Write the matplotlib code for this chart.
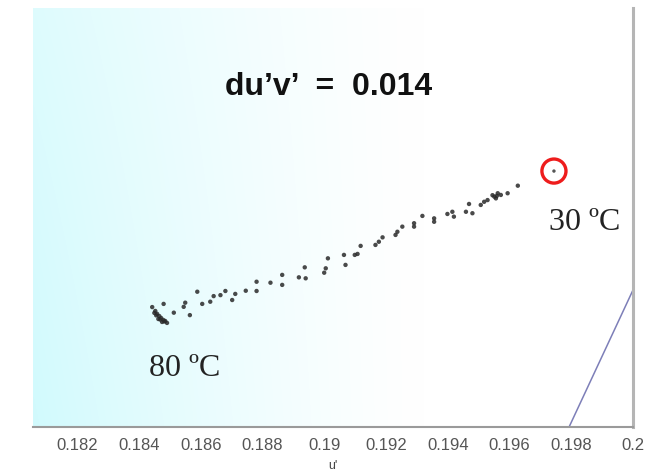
import numpy as np
import matplotlib
matplotlib.use("Agg")
import matplotlib.pyplot as plt

# measured chromaticity points u', v'
u_vals = [0.18443, 0.18450, 0.18453, 0.18459, 0.18463, 0.18466, 0.18472, 0.18475,
          0.18479, 0.18485, 0.18491, 0.18456, 0.18469, 0.18482,
          0.18480, 0.18513, 0.18545, 0.18550, 0.18565, 0.18589, 0.18605, 0.18631,
          0.18642, 0.18664, 0.18680, 0.18702, 0.18712, 0.18746, 0.18781, 0.18781,
          0.18826, 0.18864, 0.18864, 0.18918, 0.18940, 0.18937, 0.19000, 0.19005,
          0.19012, 0.19064, 0.19069, 0.19108, 0.19099, 0.19118, 0.19166, 0.19177,
          0.19189, 0.19231, 0.19237, 0.19253, 0.19291, 0.19291, 0.19318, 0.19356,
          0.19356, 0.19399, 0.19415, 0.19420, 0.19459, 0.19469, 0.19480, 0.19507,
          0.19518, 0.19529, 0.19551, 0.19562, 0.19556, 0.19572, 0.19594, 0.19627,
          0.19545, 0.19559]
v_vals = [0.45969, 0.45945, 0.45953, 0.45941, 0.45920, 0.45932, 0.45924, 0.45908,
          0.45916, 0.45912, 0.45904, 0.45935, 0.45918, 0.45910,
          0.45982, 0.45946, 0.45970, 0.45987, 0.45936, 0.46032, 0.45982, 0.45991,
          0.46014, 0.46018, 0.46035, 0.45998, 0.46023, 0.46036, 0.46073, 0.46035,
          0.46069, 0.46101, 0.46060, 0.46091, 0.46087, 0.46132, 0.46110, 0.46128,
          0.46169, 0.46183, 0.46142, 0.46187, 0.46183, 0.46220, 0.46224, 0.46237,
          0.46255, 0.46265, 0.46278, 0.46299, 0.46313, 0.46299, 0.46343, 0.46333,
          0.46319, 0.46351, 0.46360, 0.46340, 0.46360, 0.46392, 0.46354, 0.46388,
          0.46401, 0.46408, 0.46422, 0.46436, 0.46415, 0.46429, 0.46436, 0.46467,
          0.46428, 0.46425]

# 30 degC point (circled)
u_30, v_30 = 0.19744, 0.46527
# boundary line
line_u = [0.19793, 0.20000]
line_v = [0.45477, 0.46039]

xticks = [0.182, 0.184, 0.186, 0.188, 0.19, 0.192, 0.194, 0.196, 0.198, 0.2]
xtick_labels = ["0.182", "0.184", "0.186", "0.188", "0.19", "0.192", "0.194",
                "0.196", "0.198", "0.2"]
xlim = (0.18057, 0.20000)
ylim = (0.45477, 0.47196)

fig = plt.figure(figsize=(6.59, 4.75), dpi=100)
ax = fig.add_axes([33/659, 1 - 427/475, 600/659, 419/475])

# background gradient
nx, ny = 300, 200
xx = np.linspace(0, 1, nx)[None, :]
yy = np.linspace(0, 1, ny)[:, None]  # 0 top, 1 bottom
s = np.clip(1 - xx / 0.65, 0, 1) ** 1.3 * (0.72 + 0.28 * yy)
img = np.ones((ny, nx, 3))
img[..., 0] = 1 - 0.18 * s
img[..., 1] = 1 - 0.02 * s
img[..., 2] = 1 - 0.008 * s
ax.imshow(img, extent=[xlim[0], xlim[1], ylim[0], ylim[1]], origin="upper",
          aspect="auto", zorder=0, interpolation="bilinear")

ax.scatter(u_vals, v_vals, s=10, color="#2a2a2a", edgecolors="none", alpha=0.85, zorder=3)
ax.scatter([u_30], [v_30], s=6, color="#555555", edgecolors="none", zorder=3)
ax.scatter([u_30], [v_30], s=300, facecolors="none", edgecolors="#ee1c1c",
           linewidths=2.4, zorder=4)
ax.plot(line_u, line_v, color="#7d7fb8", lw=1.1, zorder=2)

ax.set_xlim(*xlim)
ax.set_ylim(*ylim)
ax.set_xticks(xticks)
ax.set_xticklabels(xtick_labels)
ax.set_yticks([])
ax.tick_params(axis="x", length=0, pad=8, labelsize=12, labelcolor="#555555")
for lab in ax.get_xticklabels():
    lab.set_fontfamily("Liberation Sans")
ax.set_xlabel("u'", fontsize=9, color="#444444", labelpad=5, family="Liberation Sans")

for side in ["top", "left"]:
    ax.spines[side].set_visible(False)
ax.spines["bottom"].set_color("#9a9a9a")
ax.spines["bottom"].set_linewidth(1.5)
ax.spines["right"].set_color("#b5b5b5")
ax.spines["right"].set_linewidth(2.2)

ax.text(0.493, 0.811, "du\u2019v\u2019  =  0.014", transform=ax.transAxes, ha="center",
        va="center", fontsize=23, fontweight="bold", family="Liberation Sans",
        color="#111111")
ax.text(0.19845, 0.46318, "30 \u00baC", ha="center", va="center", fontsize=23,
        family="Liberation Serif", color="#222222")
ax.text(0.18547, 0.45715, "80 \u00baC", ha="center", va="center", fontsize=23,
        family="Liberation Serif", color="#222222")

fig.savefig("out.png", dpi=100)
